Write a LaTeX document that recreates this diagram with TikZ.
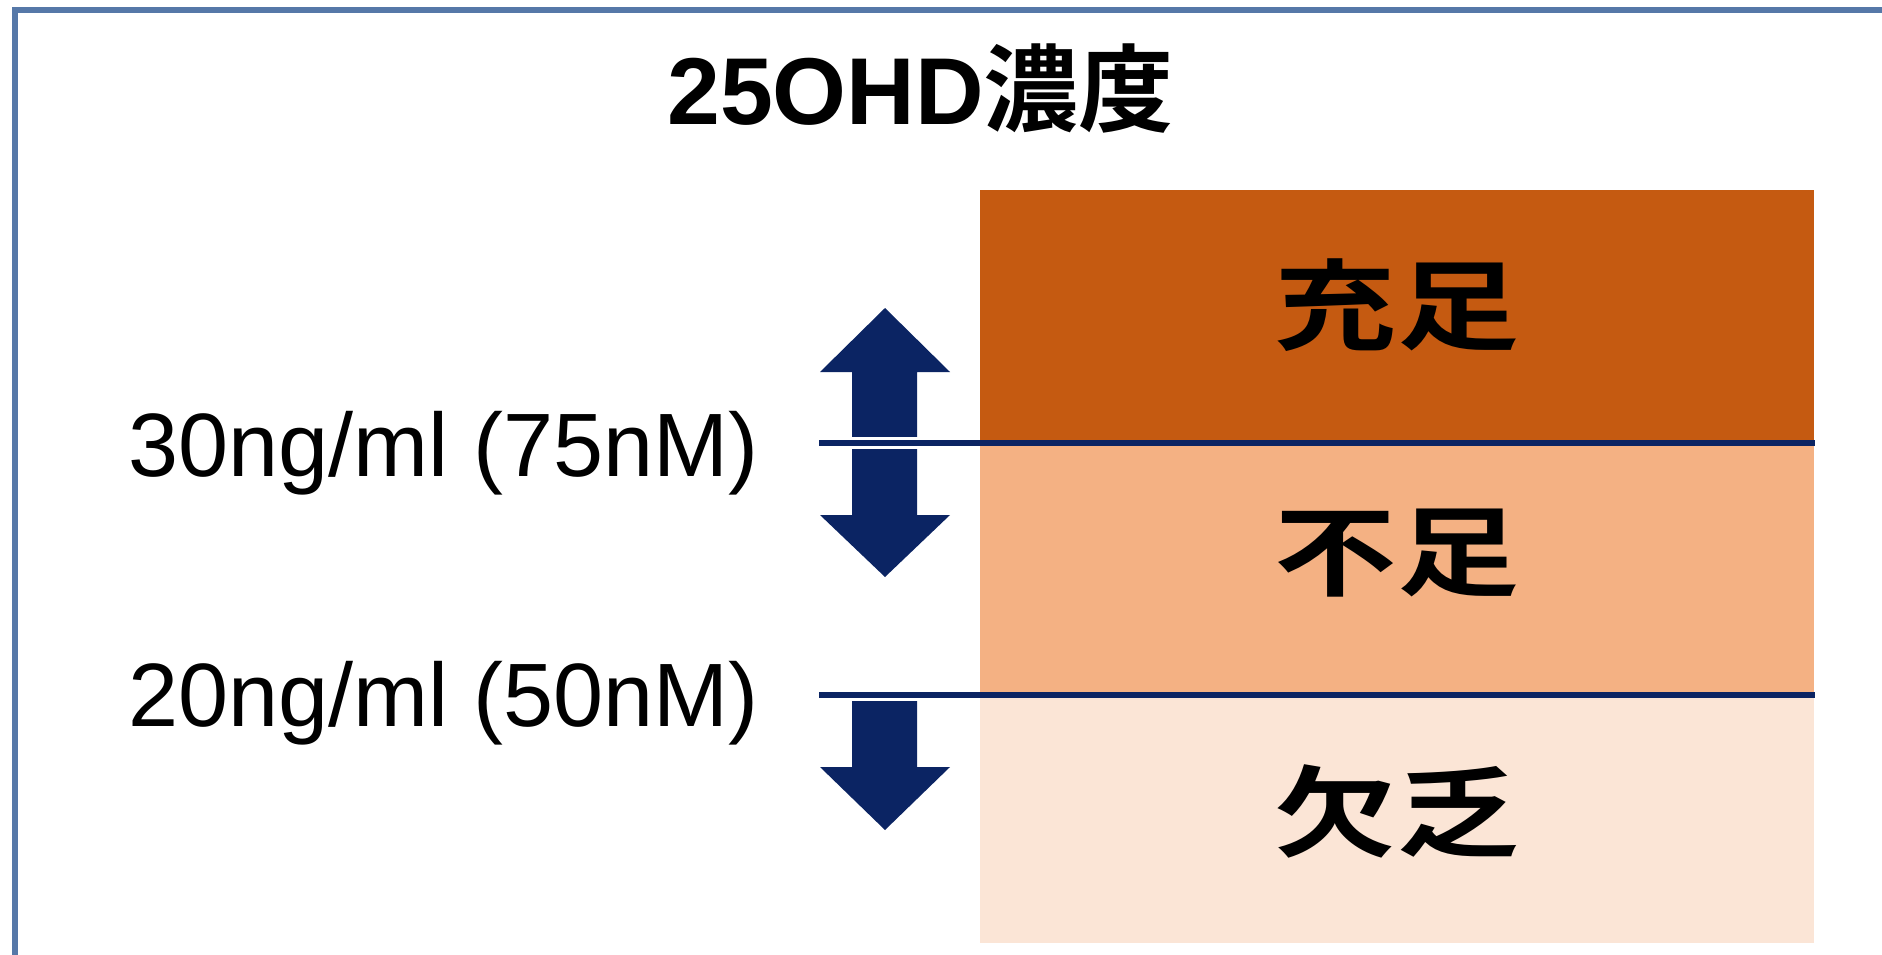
\documentclass[tikz,border=0pt]{standalone}
\usepackage{fontspec}
\usepackage{graphicx}
\setmainfont{Liberation Sans}
\newfontfamily\cjk{Noto Sans CJK JP}[BoldFont={Noto Sans CJK JP Bold}]
\definecolor{frameblue}{HTML}{5678A8}
\definecolor{navy}{HTML}{0B2463}
\definecolor{orangeA}{HTML}{C55A11}
\definecolor{orangeB}{HTML}{F4B183}
\definecolor{orangeC}{HTML}{FBE5D6}
\newcommand{\lvltext}[1]{\scalebox{1.09}[0.88]{\cjk\bfseries\fontsize{112}{112}\selectfont #1}}
\tikzset{
  levelbox/.style={fill=#1, draw=none},
  levellabel/.style={text=black, inner sep=0pt},
  thresh/.style={draw=navy, line width=5.5pt},
  halo/.style={draw=white, line width=12pt},
  valuelabel/.style={font=\fontsize{90}{90}\selectfont, anchor=base west, inner sep=0pt},
  bigarrow/.style={fill=navy, draw=none},
}
\begin{document}
\begin{tikzpicture}[x=1pt,y=-1pt]
\useasboundingbox (0,0) rectangle (1882,955);
\fill[white] (0,0) rectangle (1882,955);
% frame (cropped at right and bottom)
\begin{scope}
\clip (0,0) rectangle (1882,955);
\draw[frameblue, line width=6pt] (15,10) rectangle (1900,975);
\end{scope}
% title
\node[inner sep=0pt, anchor=base west] (title) at (667,125)
  {\fontsize{95}{95}\selectfont\bfseries 25OHD{\cjk\bfseries 濃度}};
% level boxes
\fill[levelbox=orangeA] (980,190) rectangle (1814,443);
\fill[levelbox=orangeB] (980,443) rectangle (1814,695);
\fill[levelbox=orangeC] (980,695) rectangle (1814,943);
\node[levellabel] (suff) at (1397,305) {\lvltext{充足}};
\node[levellabel] (insuff) at (1397,553) {\lvltext{不足}};
\node[levellabel] (defic) at (1397,811) {\lvltext{欠乏}};
% arrows
\path[bigarrow] (885,308) -- (950,372) -- (917,372) -- (917,515) -- (950,515)
  -- (885,577) -- (820,515) -- (852,515) -- (852,372) -- (820,372) -- cycle;
\path[bigarrow] (852,700) -- (917,700) -- (917,767) -- (950,767) -- (885,830)
  -- (820,767) -- (852,767) -- cycle;
% thresholds
\coordinate (t1a) at (819,443);
\coordinate (t1b) at (1815,443);
\coordinate (t2a) at (819,695);
\coordinate (t2b) at (1815,695);
\draw[halo] (t1a) -- (970,443);
\draw[halo] (t2a) -- (970,695);
\draw[thresh] (t1a) -- (t1b);
\draw[thresh] (t2a) -- (t2b);
\node[valuelabel] (v30) at (128,476) {30ng/ml (75nM)};
\node[valuelabel] (v20) at (128,726) {20ng/ml (50nM)};
\end{tikzpicture}
\end{document}
